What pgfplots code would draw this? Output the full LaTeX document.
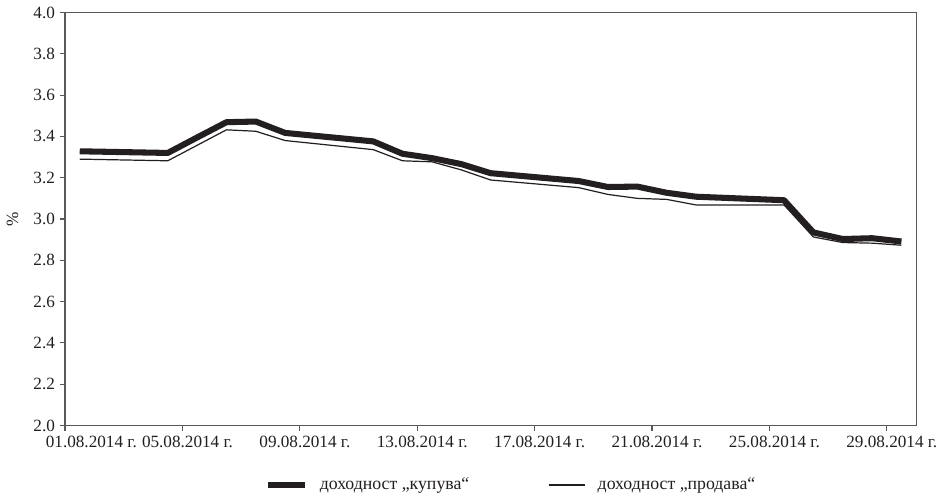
\documentclass[border=0pt]{standalone}
\usepackage{fontspec}
\setmainfont{Liberation Serif}
\usepackage{pgfplots}
\pgfplotsset{compat=1.18}

\definecolor{ink}{HTML}{231F20}

\pgfplotstableread{
x     buy    sell
1.5   3.328  3.290
4.5   3.320  3.282
5.5   3.395  3.357
6.5   3.469  3.432
7.5   3.472  3.425
8.5   3.417  3.380
11.5  3.376  3.336
12.5  3.316  3.282
13.5  3.295  3.277
14.5  3.266  3.238
15.5  3.222  3.189
18.5  3.184  3.152
19.5  3.155  3.119
20.5  3.157  3.100
21.5  3.127  3.095
22.5  3.108  3.068
25.5  3.091  3.068
26.5  2.935  2.913
27.5  2.903  2.886
28.5  2.907  2.883
29.5  2.891  2.873
}\yields

\begin{document}
\begin{tikzpicture}
\begin{axis}[
    width=421.5pt, height=204.5pt,
    scale only axis,
    xmin=1, xmax=30,
    ymin=2.0, ymax=4.0,
    xtick={1,5,9,13,17,21,25,29},
    xticklabels={\rlap{\hspace{-12pt}01.08.2014 г.},05.08.2014 г.,09.08.2014 г.,13.08.2014 г.,17.08.2014 г.,21.08.2014 г.,25.08.2014 г.,29.08.2014 г.},
    ytick={2.0,2.2,...,4.01},
    yticklabel style={/pgf/number format/fixed, /pgf/number format/fixed zerofill, /pgf/number format/precision=1},
    /pgf/number format/assume math mode=true,
    xtick pos=bottom, ytick pos=left,
    tick align=outside,
    major tick length=2.5pt,
    axis line style={black!65, line width=0.6pt},
    every tick/.style={black!65, line width=0.6pt},
    tick label style={font=\fontsize{8.5pt}{10pt}\selectfont, text=ink},
    xticklabel style={xshift=2.5pt, yshift=1pt},
    yticklabel style={xshift=1pt},
    ylabel={\%},
    ylabel style={at={(axis description cs:-0.0617,0.5)}, anchor=center, font=\fontsize{8.5pt}{10pt}\selectfont, text=ink},
    legend style={at={(0.5255,-0.144)}, anchor=center, draw=none,
        font=\fontsize{8.8pt}{10pt}\selectfont, text=ink,
        /tikz/every even column/.append style={column sep=37pt}},
    legend columns=2,
    legend cell align=left,
    legend image code/.code={\draw[#1] (0pt,0pt) -- (18pt,0pt);},
]
\addplot[ink, line width=3pt, line join=round] table[x=x, y=buy] {\yields};
\addlegendentry{\hspace{4pt}доходност „купува“}
\addplot[ink, line width=0.6pt, line join=round] table[x=x, y=sell] {\yields};
\addlegendentry{\hspace{4pt}доходност „продава“}
\end{axis}
\end{tikzpicture}
\end{document}
